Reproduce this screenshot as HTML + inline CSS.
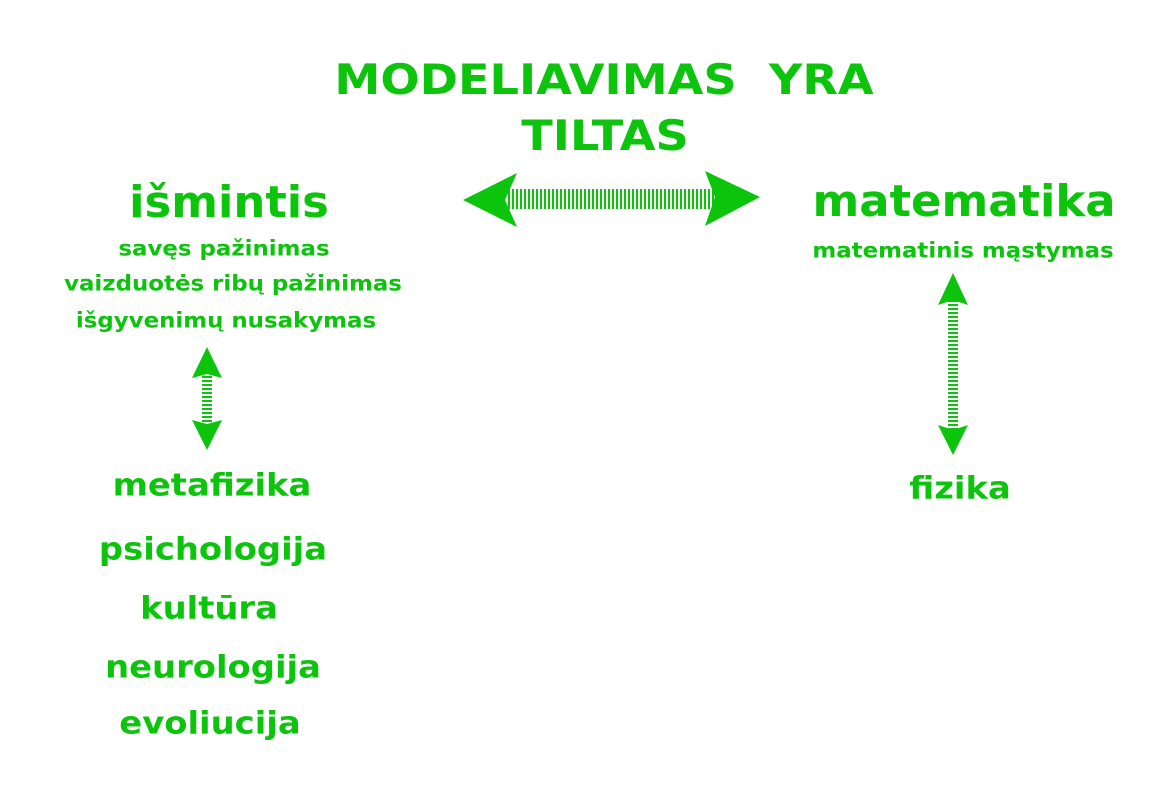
<!DOCTYPE html>
<html><head><meta charset="utf-8"><style>
body{margin:0;width:1169px;height:788px;background:#fff;position:relative;overflow:hidden;font-family:"DejaVu Sans","Liberation Sans",sans-serif;font-weight:bold;color:#0cc40c}
.t{position:absolute;transform:translate(-50%,-50%);white-space:nowrap;line-height:1}
.s{transform:translate(-50%,-50%) scaleX(1.1)}
.m{transform:translate(-50%,-50%) scaleX(1.09)}
.b{transform:translate(-50%,-50%) scaleX(1.02)}
</style></head><body>
<div class="t s" style="left:604px;top:80px;font-size:42px">MODELIAVIMAS&nbsp; YRA</div>
<div class="t s" style="left:605px;top:136px;font-size:42px">TILTAS</div>
<div class="t b" style="left:229px;top:203px;font-size:44px">išmintis</div>
<div class="t m" style="left:224px;top:249px;font-size:21px">savęs pažinimas</div>
<div class="t m" style="left:233px;top:284px;font-size:21px">vaizduotės ribų pažinimas</div>
<div class="t m" style="left:226px;top:321px;font-size:21px">išgyvenimų nusakymas</div>
<div class="t b" style="left:964px;top:202px;font-size:44px">matematika</div>
<div class="t m" style="left:963px;top:251px;font-size:21px">matematinis mąstymas</div>
<div class="t m" style="left:212px;top:486px;font-size:31px">metafizika</div>
<div class="t m" style="left:213px;top:550px;font-size:31px">psichologija</div>
<div class="t m" style="left:209px;top:609px;font-size:31px">kultūra</div>
<div class="t m" style="left:213px;top:668px;font-size:31px">neurologija</div>
<div class="t m" style="left:210px;top:724px;font-size:31px">evoliucija</div>
<div class="t m" style="left:960px;top:489px;font-size:31px">fizika</div>
<svg width="1169" height="788" style="position:absolute;left:0;top:0">
<defs>
<pattern id="h" width="4" height="4" patternUnits="userSpaceOnUse"><rect width="2" height="4" fill="#0cc40c"/></pattern>
<pattern id="v" width="4" height="4" patternUnits="userSpaceOnUse"><rect width="4" height="2" fill="#0cc40c"/></pattern>
</defs>
<g fill="#0cc40c">
<rect x="507" y="189" width="210" height="20" fill="url(#h)"/>
<polygon points="463,200 517,173 505,200 517,227"/>
<polygon points="760,197 705,171 715,197 705,226"/>
<rect x="202" y="372" width="10" height="52" fill="url(#v)"/>
<polygon points="207,347 222,378 207,374 192,378"/>
<polygon points="207,450 222,420 207,424 192,420"/>
<rect x="948" y="300" width="10" height="130" fill="url(#v)"/>
<polygon points="953,273 968,305 953,300 938,305"/>
<polygon points="953,455 968,425 953,430 938,425"/>
</g>
</svg>
</body></html>
